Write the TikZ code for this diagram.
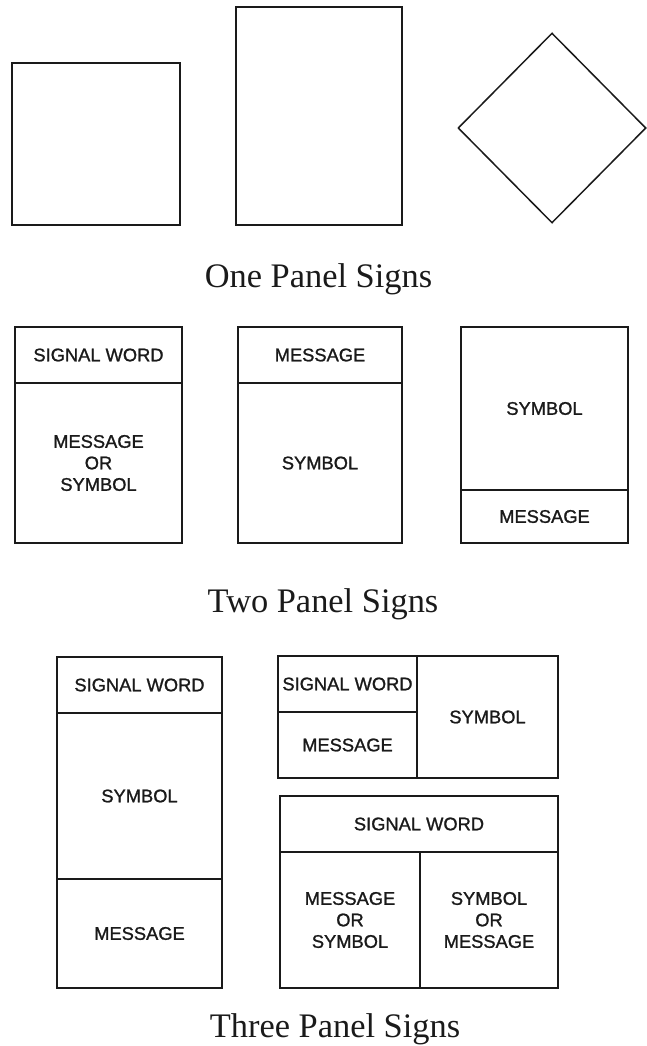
\documentclass[tikz,border=0pt]{standalone}
\usepackage{fontspec}
\setmainfont{Liberation Serif}
\setsansfont{Liberation Sans}
\newfontfamily\panelfont{Liberation Sans}[FakeBold=1.2]
\usepackage{tikz}
\usetikzlibrary{shapes.geometric}
\definecolor{ink}{HTML}{1A1A1A}

\tikzset{
    panel/.style={draw=ink, line width=1.5pt, inner sep=0pt, align=center, text=ink,
        font=\panelfont\fontsize{18.3}{21.5}\selectfont},
    caption/.style={anchor=base, text=ink, font=\rmfamily\fontsize{34.4}{38}\selectfont}
}

\begin{document}
\begin{tikzpicture}[x=1pt, y=-1pt]
    \useasboundingbox (0,0) rectangle (647,1046);

    % 1. One panel signs
    \node[panel, minimum width=168, minimum height=162] (square) at (96,144) {};
    \node[panel, minimum width=166, minimum height=218] (tall) at (319,116) {};
    \node[panel, diamond, minimum width=188, minimum height=190] (diam) at (552,128) {};
    \node[caption] (onecap) at (318.5,287) {One Panel Signs};

    % 2. Two panel signs
    \node[panel, minimum width=167, minimum height=56] (aword) at (98.5,355) {SIGNAL WORD};
    \node[panel, minimum width=167, minimum height=160] (amsg) at (98.5,463) {MESSAGE\\OR\\SYMBOL};
    \node[panel, minimum width=164, minimum height=56] (bmsg) at (320,355) {MESSAGE};
    \node[panel, minimum width=164, minimum height=160] (bsym) at (320,463) {SYMBOL};
    \node[panel, minimum width=167, minimum height=163] (csym) at (544.5,408.5) {SYMBOL};
    \node[panel, minimum width=167, minimum height=53] (cmsg) at (544.5,516.5) {MESSAGE};
    \node[caption] (twocap) at (323,612) {Two Panel Signs};

    % 3. Three panel signs
    \node[panel, minimum width=165, minimum height=56] (dword) at (139.5,685) {SIGNAL WORD};
    \node[panel, minimum width=165, minimum height=166] (dsym) at (139.5,796) {SYMBOL};
    \node[panel, minimum width=165, minimum height=109] (dmsg) at (139.5,933.5) {MESSAGE};
    \node[panel, minimum width=139, minimum height=56] (eword) at (347.5,684) {SIGNAL WORD};
    \node[panel, minimum width=139, minimum height=66] (emsg) at (347.5,745) {MESSAGE};
    \node[panel, minimum width=141, minimum height=122] (esym) at (487.5,717) {SYMBOL};
    \node[panel, minimum width=278, minimum height=56] (fword) at (419,824) {SIGNAL WORD};
    \node[panel, minimum width=140, minimum height=136] (fleft) at (350,920) {MESSAGE\\OR\\SYMBOL};
    \node[panel, minimum width=138, minimum height=136] (fright) at (489,920) {SYMBOL\\OR\\MESSAGE};
    \node[caption] (threecap) at (335,1037) {Three Panel Signs};
\end{tikzpicture}
\end{document}
